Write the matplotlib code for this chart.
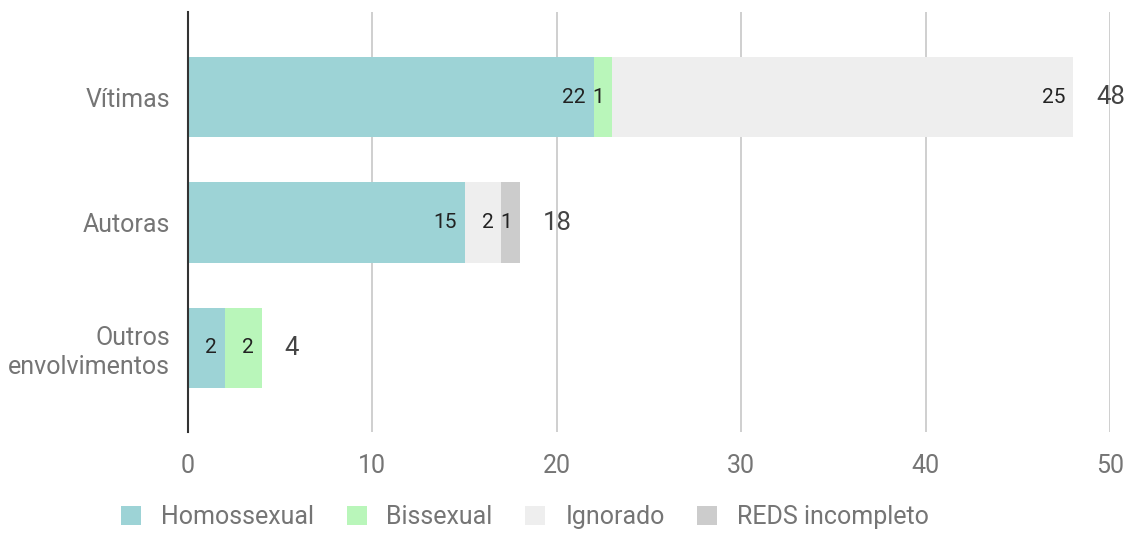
import matplotlib
matplotlib.use("Agg")
import matplotlib.pyplot as plt
from matplotlib.patches import Patch
from matplotlib.transforms import offset_copy

plt.rcParams['font.family'] = ['Roboto', 'DejaVu Sans']

categories = ["Vítimas", "Autoras", "Outros\nenvolvimentos"]
series_names = ["Homossexual", "Bissexual", "Ignorado", "REDS incompleto"]
homossexual = [22, 15, 2]
bissexual = [1, 0, 2]
ignorado = [25, 2, 0]
reds_incompleto = [0, 1, 0]
colors = ["#9dd3d6", "#b9f6ba", "#eeeeee", "#cccccc"]
xticks = [0, 10, 20, 30, 40, 50]

series = [homossexual, bissexual, ignorado, reds_incompleto]

fig = plt.figure(figsize=(11.33, 5.35), dpi=100)
ax = fig.add_axes([188/1133, 1-432/535, (1110-188)/1133, 420/535])

ypos = list(range(len(categories)))
left = [0]*len(categories)
for vals, col in zip(series, colors):
    ax.barh(ypos, vals, left=left, height=0.64, color=col, zorder=2)
    for i, v in enumerate(vals):
        if v > 0:
            end = left[i] + v
            tr = offset_copy(ax.transData, fig=fig, x=-8, y=0, units='dots')
            ax.text(end, ypos[i], str(v), ha='right', va='center',
                    fontsize=15, color='#222222', transform=tr, zorder=3)
    left = [l + v for l, v in zip(left, vals)]

for i, tot in enumerate(left):
    tr = offset_copy(ax.transData, fig=fig, x=23, y=0, units='dots')
    ax.text(tot, ypos[i], str(tot), ha='left', va='center',
            fontsize=18.5, color='#444444', transform=tr, zorder=3)

ax.set_xlim(0, 50)
ax.set_ylim(2.672, -0.68)
ax.set_xticks(xticks)
ax.set_yticks(ypos)
ax.set_yticklabels(categories)
ax.tick_params(axis='both', length=0, labelsize=18, labelcolor='#757575')
ax.tick_params(axis='x', pad=16)
ax.tick_params(axis='y', pad=13)
for lbl in ax.get_yticklabels():
    lbl.set_multialignment('right')
    lbl.set_linespacing(1.25)
ax.xaxis.grid(True, color='#cccccc', linewidth=1.3, zorder=0)
ax.set_axisbelow(True)
for s in ['top', 'right', 'bottom']:
    ax.spines[s].set_visible(False)
ax.spines['left'].set_color('#333333')
ax.spines['left'].set_linewidth(1.5)
ax.spines['left'].set_zorder(4)

handles = [Patch(facecolor=c, edgecolor='none') for c in colors]
fig.legend(handles, series_names, loc='center', bbox_to_anchor=(525/1133, 1-517/535),
           ncol=4, frameon=False, fontsize=18, labelcolor='#757575',
           handlelength=0.8, handleheight=0.8, handletextpad=0.8, columnspacing=1.3)

fig.savefig("out.png", dpi=100)
